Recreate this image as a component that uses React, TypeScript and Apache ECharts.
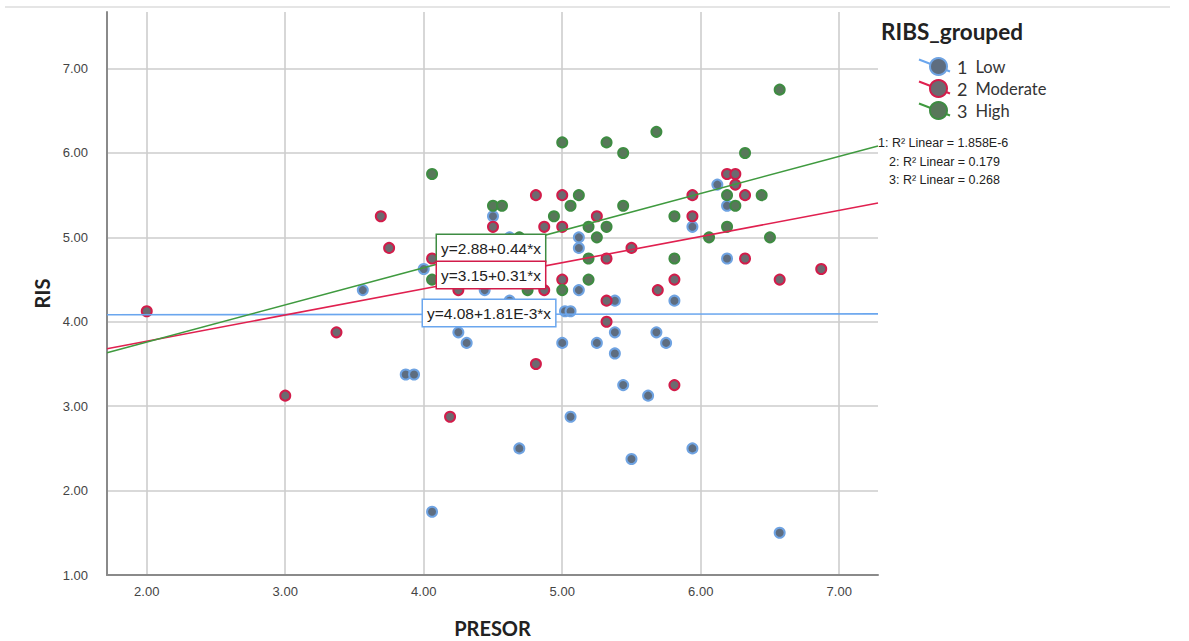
import React, { useEffect, useRef } from "react";
import * as echarts from "echarts";

// PRESOR (x), RIS (y) pairs
const lowPoints: number[][] = [
  [4.0, 4.625], [3.56, 4.375], [4.5, 5.25], [4.44, 4.375], [4.25, 3.875], [4.31, 3.75],
  [4.62, 5.0], [4.62, 4.25], [5.94, 5.125], [5.12, 5.0], [5.12, 4.875], [5.12, 4.375],
  [5.81, 4.25], [5.38, 4.25], [5.02, 4.125], [5.06, 4.125], [5.38, 3.875], [5.68, 3.875],
  [5.75, 3.75], [5.25, 3.75], [5.0, 3.75], [5.38, 3.625], [6.12, 5.625], [6.19, 5.375],
  [6.19, 4.75], [3.87, 3.375], [3.93, 3.375], [5.44, 3.25], [5.62, 3.125], [5.06, 2.875],
  [4.69, 2.5], [5.5, 2.375], [5.94, 2.5], [4.06, 1.75], [6.57, 1.5],
];
const moderatePoints: number[][] = [
  [2.0, 4.125], [3.69, 5.25], [3.75, 4.875], [4.06, 4.75], [4.5, 5.125], [4.25, 4.375],
  [3.37, 3.875], [4.81, 5.5], [5.0, 5.5], [5.94, 5.5], [5.94, 5.25], [4.87, 5.125],
  [5.0, 5.125], [5.25, 5.25], [5.5, 4.875], [5.32, 4.75], [5.0, 4.5], [5.81, 4.5],
  [5.69, 4.375], [5.32, 4.25], [5.32, 4.0], [4.87, 4.375], [6.19, 5.75], [6.25, 5.75],
  [6.25, 5.625], [6.32, 5.5], [6.32, 4.75], [6.57, 4.5], [6.87, 4.625], [4.81, 3.5],
  [5.81, 3.25], [4.19, 2.875], [3.0, 3.125],
];
const highPoints: number[][] = [
  [4.06, 5.75], [4.06, 4.5], [4.5, 5.375], [4.565, 5.375], [5.0, 6.125], [5.32, 6.125],
  [5.44, 6.0], [5.68, 6.25], [5.12, 5.5], [5.06, 5.375], [5.44, 5.375], [5.81, 5.25],
  [4.94, 5.25], [5.19, 5.125], [5.32, 5.125], [5.25, 5.0], [5.19, 4.75], [5.81, 4.75],
  [5.19, 4.5], [5.0, 4.375], [4.69, 5.0], [4.75, 4.375], [6.57, 6.75], [6.32, 6.0],
  [6.19, 5.5], [6.44, 5.5], [6.25, 5.375], [6.19, 5.125], [6.06, 5.0], [6.5, 5.0],
];

const groupNames = ["1 Low", "2 Moderate", "3 High"];
const intercepts = [4.08, 3.15, 2.88];
const slopes = [0.00181, 0.31, 0.44];
const equationTexts = ["y=4.08+1.81E-3*x", "y=3.15+0.31*x", "y=2.88+0.44*x"];
const r2Texts = ["1: R\u00B2 Linear = 1.858E-6", "2: R\u00B2 Linear = 0.179", "3: R\u00B2 Linear = 0.268"];

const xTicks = [2, 3, 4, 5, 6, 7];
const yTicks = [1, 2, 3, 4, 5, 6, 7];
const xMin = 1.713;
const xMax = 7.28;
const yMin = 1.0;
const yMax = 7.67;

const lineColors = ["#6aa6ee", "#e0204f", "#3f9a3f"];
const fillColors = ["#5e6d80", "#6c6a70", "#58775a"];
const ringColors = ["#6fa3e2", "#d21c4a", "#3e8c42"];

export default function App() {
  const ref = useRef<HTMLDivElement>(null);
  useEffect(() => {
    if (!ref.current) return;
    const chart = echarts.init(ref.current, null, { renderer: "svg" });
    const groups = [lowPoints, moderatePoints, highPoints];
    const scatterSeries = groups.map((pts, i) => ({
      type: "scatter",
      name: groupNames[i],
      data: pts,
      symbol: "circle",
      symbolSize: 10,
      itemStyle: { color: fillColors[i], borderColor: ringColors[i], borderWidth: 2, opacity: 1 },
      z: 3,
    }));
    const lineSeries = intercepts.map((a, i) => ({
      type: "line",
      name: "fit" + (i + 1),
      data: [
        [xMin, a + slopes[i] * xMin],
        [xMax, a + slopes[i] * xMax],
      ],
      symbol: "none",
      lineStyle: { color: lineColors[i], width: 1.6 },
      z: 4,
      silent: true,
    }));
    const font = '"Liberation Sans", Arial, sans-serif';
    const eqStyle = (text: string, color: string) => ({
      text,
      font: "15.5px " + font,
      fill: "#222",
      backgroundColor: "#ffffff",
      borderColor: color,
      borderWidth: 1.5,
      padding: [5, 4, 5, 4],
    });
    const legendRow = 22;
    const legendTop = 57;
    chart.setOption({
      animation: false,
      backgroundColor: "#ffffff",
      grid: { left: 107, right: 311, top: 12, bottom: 66, containLabel: false, outerBoundsMode: "none" },
      xAxis: {
        type: "value",
        min: xMin,
        max: xMax,
        name: "PRESOR",
        nameLocation: "middle",
        nameGap: 43,
        nameTextStyle: { fontFamily: "Lato", fontWeight: "bold", fontSize: 20, color: "#222" },
        axisLine: { show: true, onZero: false, lineStyle: { color: "#8a8a8a", width: 2 } },
        axisTick: { show: false, customValues: xTicks },
        axisLabel: {
          customValues: xTicks,
          formatter: (v: number) => v.toFixed(2),
          fontFamily: font,
          fontSize: 13,
          color: "#444",
          margin: 10,
        },
        splitLine: { show: true, lineStyle: { color: "#cdcdcd", width: 1.6 } },
      },
      yAxis: {
        type: "value",
        min: yMin,
        max: yMax,
        name: "RIS",
        nameLocation: "middle",
        nameGap: 52,
        nameRotate: 90,
        nameTextStyle: { fontFamily: "Lato", fontWeight: "bold", fontSize: 20, color: "#222" },
        axisLine: { show: true, onZero: false, lineStyle: { color: "#8a8a8a", width: 2 } },
        axisTick: { show: false, customValues: yTicks },
        axisLabel: {
          customValues: yTicks,
          formatter: (v: number) => v.toFixed(2),
          fontFamily: font,
          fontSize: 13,
          color: "#444",
          margin: 19,
        },
        splitLine: { show: true, lineStyle: { color: "#cdcdcd", width: 1.6 } },
      },
      title: {
        text: "RIBS_grouped",
        left: 876,
        top: 15,
        textStyle: { fontFamily: "Lato", fontWeight: "bold", fontSize: 22.5, color: "#222" },
      },
      legend: {
        data: groupNames,
        orient: "vertical",
        left: 929,
        top: legendTop,
        padding: 0,
        itemWidth: 17,
        itemHeight: 17,
        itemGap: 3,
        icon: "circle",
        formatter: (name: string) => {
          const sp = name.indexOf(" ");
          return "{n|" + name.slice(0, sp) + "}{t|" + name.slice(sp + 1) + "}";
        },
        textStyle: {
          rich: {
            n: { fontFamily: "Lato", fontSize: 18, color: "#333", padding: [0, 8, 0, 5] },
            t: { fontFamily: "Lato", fontSize: 16.5, color: "#333" },
          },
        },
      },
      graphic: [
        { type: "line", shape: { x1: 5, y1: 7, x2: 1170, y2: 7 }, style: { stroke: "#dddddd", lineWidth: 1.5 } },
        ...[0, 1, 2].map((i) => ({
          type: "line",
          z: 0,
          shape: {
            x1: 919,
            y1: legendTop + 9.5 + i * legendRow - 7,
            x2: 950,
            y2: legendTop + 9.5 + i * legendRow + 5,
          },
          style: { stroke: lineColors[i], lineWidth: 2 },
        })),
        ...r2Texts.map((t, i) => ({
          type: "text",
          x: i === 0 ? 878 : 889,
          y: 143 + i * 18.5,
          style: { text: t, font: "12.5px " + font, fill: "#222", textVerticalAlign: "middle" },
        })),
        { type: "text", x: 437, y: 235, z: 10, style: eqStyle(equationTexts[2], ringColors[2]) },
        { type: "text", x: 437, y: 262, z: 10, style: eqStyle(equationTexts[1], ringColors[1]) },
        { type: "text", x: 423, y: 300, z: 10, style: eqStyle(equationTexts[0], lineColors[0]) },
      ],
      series: [...lineSeries, ...scatterSeries],
    });
    return () => chart.dispose();
  }, []);
  return (
    <div
      ref={ref}
      style={{ position: "fixed", left: 0, top: 0, width: 1189, height: 641 }}
    />
  );
}
